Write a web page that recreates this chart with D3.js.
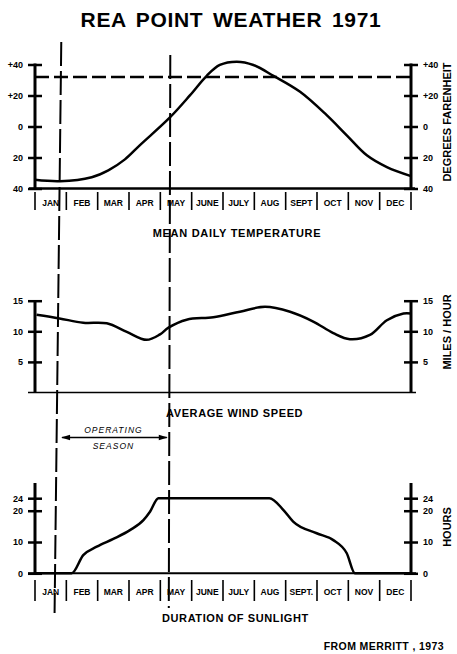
<!DOCTYPE html>
<html>
<head>
<meta charset="utf-8">
<script src="https://cdn.jsdelivr.net/npm/d3@7"></script>
<style>
  html, body { margin: 0; padding: 0; background: #fff; }
  svg { display: block; }
  text { font-family: "Liberation Sans", Arial, sans-serif; fill: #000; }
</style>
</head>
<body>
<svg id="chart" width="457" height="654"></svg>
<script>
// ---------- DATA ----------
const months = ["JAN","FEB","MAR","APR","MAY","JUNE","JULY","AUG","SEPT","OCT","NOV","DEC"];
const monthsBottom = ["JAN","FEB","MAR","APR","MAY","JUNE","JULY","AUG","SEPT.","OCT","NOV","DEC"];

// Mean daily temperature (°F); position in months from 1 Jan
const tempPos  = [0, 0.8, 1.81, 2.34, 2.87, 3.35, 4.29, 4.95, 5.48, 5.9, 6.44, 6.97, 7.61, 8.46, 9.31, 9.95, 10.59, 11.23, 12];
const tempVals = [-34.4, -35.3, -32.7, -28.3, -21.2, -12, 5.5, 20.2, 32.7, 39.7, 41.8, 39.7, 32.7, 22.4, 7.3, -5.7, -18.6, -26.2, -32];
const freezing = 32;
const tempTicks = [40, 20, 0, -20, -40];
const tempTickLabels = ["+40", "+20", "0", "20", "40"];

// Average wind speed (mph)
const windPos  = [0.05, 0.78, 1.54, 2.29, 2.93, 3.56, 3.99, 4.26, 4.84, 5.69, 6.54, 7.34, 8.14, 8.88, 9.52, 10.05, 10.69, 11.23, 11.76, 12];
const windVals = [12.7, 12.1, 11.4, 11.3, 9.9, 8.6, 9.5, 10.6, 11.9, 12.3, 13.2, 14.0, 13.2, 11.6, 9.7, 8.7, 9.4, 11.8, 12.9, 12.9];
const windTicks = [15, 10, 5];

// Duration of sunlight (hours)
const sunPos  = [0, 1.17, 1.54, 1.97, 2.5, 3.03, 3.46, 3.67, 3.94, 7.48, 7.93, 8.24, 8.99, 9.52, 9.95, 10.21, 12];
const sunVals = [0, 0, 5.8, 8.5, 11, 13.8, 17, 19.7, 24, 24, 20.2, 16.5, 12.8, 10.6, 6.4, 0, 0];
const sunTicks = [24, 20, 10, 0];

// Operating season boundaries (months)
const seasonStart = 0.8;
const seasonEnd = 4.27;

// ---------- LAYOUT ----------
const svg = d3.select("#chart");
const x = d3.scaleLinear().domain([0, 12]).range([35, 411]);
const yT = d3.scaleLinear().domain([-40, 40]).range([188.5, 64.5]);
const yW = d3.scaleLinear().domain([0, 15]).range([392.5, 300.7]);
const yS = d3.scaleLinear().domain([0, 24]).range([573.3, 498.2]);

// Title
svg.append("text").attr("x", 231).attr("y", 27).attr("text-anchor", "middle")
  .style("font-size", "21px").style("font-weight", "bold").style("letter-spacing", "0.7px")
  .style("word-spacing", "3px")
  .text("REA POINT WEATHER 1971");

function drawAxes(y, ticks, labels, top, bottom, rightLabel, rightLabelY, rlx) {
  const fmt = (d, i) => labels ? labels[i] : String(d);
  const gl = svg.append("g").attr("transform", `translate(${x(0)},0)`)
    .call(d3.axisLeft(y).tickValues(ticks).tickSize(6).tickFormat(fmt));
  const gr = svg.append("g").attr("transform", `translate(${x(12)},0)`)
    .call(d3.axisRight(y).tickValues(ticks).tickSize(7).tickFormat(fmt));
  [gl, gr].forEach(g => {
    g.select(".domain").remove();
    g.selectAll(".tick line").attr("stroke", "#000").attr("stroke-width", 2.5)
      .attr("x1", -7).attr("x2", 7);
    g.selectAll(".tick text").style("font-size", "9px").style("font-weight", "bold")
      .style("font-family", "'Liberation Sans', Arial, sans-serif");
    g.append("line").attr("x1", 0).attr("x2", 0).attr("y1", top).attr("y2", bottom)
      .attr("stroke", "#000").attr("stroke-width", 3);
  });
  gl.selectAll(".tick text").attr("x", -12);
  gr.selectAll(".tick text").attr("x", 12);
  svg.append("text").attr("transform", `translate(${rlx},${rightLabelY}) rotate(-90)`)
    .attr("text-anchor", "middle").style("font-size", "11px").style("font-weight", "bold")
    .text(rightLabel);
}

function monthRow(labels, ySep1, ySep2, yText) {
  const b = d3.range(13);
  svg.append("g").selectAll("line").data(b).join("line")
    .attr("x1", d => x(d)).attr("x2", d => x(d)).attr("y1", ySep1).attr("y2", ySep2)
    .attr("stroke", "#000").attr("stroke-width", 1.6);
  svg.append("g").selectAll("text").data(labels).join("text")
    .attr("x", (d, i) => x(i + 0.5)).attr("y", yText).attr("text-anchor", "middle")
    .style("font-size", "8.5px").style("font-weight", "bold").text(d => d);
}

const smooth = d3.curveCatmullRom.alpha(0.5);

// ---------- TEMPERATURE ----------
drawAxes(yT, tempTicks, tempTickLabels, yT(40) - 1, yT(-40), "DEGREES FARENHEIT", 122, 451);
svg.append("line").attr("x1", x(0) - 6).attr("x2", x(12) + 4).attr("y1", yT(-40)).attr("y2", yT(-40))
  .attr("stroke", "#000").attr("stroke-width", 2.5);
svg.append("line").attr("x1", x(0)).attr("x2", x(12)).attr("y1", yT(freezing)).attr("y2", yT(freezing))
  .attr("stroke", "#000").attr("stroke-width", 2.5).attr("stroke-dasharray", "14,5");
svg.append("path").datum(tempPos.map((p, i) => [p, tempVals[i]]))
  .attr("fill", "none").attr("stroke", "#000").attr("stroke-width", 2.5)
  .attr("d", d3.line().x(d => x(d[0])).y(d => yT(d[1])).curve(smooth));
monthRow(months, 192, 210, 206);
svg.append("text").attr("x", 237).attr("y", 237).attr("text-anchor", "middle")
  .style("font-size", "11px").style("font-weight", "bold").style("letter-spacing", "0.7px")
  .text("MEAN DAILY TEMPERATURE");

// ---------- WIND ----------
drawAxes(yW, windTicks, null, yW(15), yW(0), "MILES / HOUR", 332, 451);
svg.append("line").attr("x1", x(0) - 7).attr("x2", x(12) + 5).attr("y1", yW(0)).attr("y2", yW(0))
  .attr("stroke", "#000").attr("stroke-width", 1.6);
svg.append("path").datum(windPos.map((p, i) => [p, windVals[i]]))
  .attr("fill", "none").attr("stroke", "#000").attr("stroke-width", 2.5)
  .attr("d", d3.line().x(d => x(d[0])).y(d => yW(d[1])).curve(smooth));
svg.append("text").attr("x", 166).attr("y", 417).attr("text-anchor", "start")
  .style("font-size", "11px").style("font-weight", "bold").style("letter-spacing", "0.6px")
  .text("AVERAGE WIND SPEED");

// Operating season annotation
const sx1 = x(seasonStart), sx2 = x(seasonEnd), sy = 437.5;
svg.append("line").attr("x1", sx1 + 2).attr("x2", sx2 - 2).attr("y1", sy).attr("y2", sy)
  .attr("stroke", "#000").attr("stroke-width", 1.3);
svg.append("path").attr("d", `M${sx1 + 1},${sy} l9,-2.8 l0,5.6 Z M${sx2 - 1},${sy} l-9,-2.8 l0,5.6 Z`)
  .attr("fill", "#000");
svg.append("text").attr("x", (sx1 + sx2) / 2 - 1).attr("y", 433).attr("text-anchor", "middle")
  .style("font-size", "8.5px").style("font-style", "italic").style("letter-spacing", "1px").text("OPERATING");
svg.append("text").attr("x", (sx1 + sx2) / 2 - 1).attr("y", 449).attr("text-anchor", "middle")
  .style("font-size", "8.5px").style("font-style", "italic").style("letter-spacing", "1px").text("SEASON");

// ---------- SUNLIGHT ----------
drawAxes(yS, sunTicks, null, 483, yS(0), "HOURS", 527, 451);
svg.append("line").attr("x1", x(0) - 7).attr("x2", x(12) + 5).attr("y1", yS(0)).attr("y2", yS(0))
  .attr("stroke", "#000").attr("stroke-width", 2);
svg.append("path").datum(sunPos.map((p, i) => [p, sunVals[i]]))
  .attr("fill", "none").attr("stroke", "#000").attr("stroke-width", 2.5)
  .attr("d", d3.line().x(d => x(d[0])).y(d => yS(d[1])).curve(d3.curveMonotoneX));
monthRow(monthsBottom, 580, 601, 595);
svg.append("text").attr("x", 162).attr("y", 622).attr("text-anchor", "start")
  .style("font-size", "11px").style("font-weight", "bold").style("letter-spacing", "0.6px")
  .text("DURATION OF SUNLIGHT");
svg.append("text").attr("x", 444).attr("y", 650).attr("text-anchor", "end")
  .style("font-size", "10.5px").style("font-weight", "bold").style("letter-spacing", "0.4px")
  .text("FROM MERRITT , 1973");

// ---------- OPERATING SEASON VERTICAL LINES ----------
svg.append("line").attr("x1", x(seasonStart) + 1.2).attr("y1", 42).attr("x2", x(seasonStart) - 5.5).attr("y2", 613)
  .attr("stroke", "#000").attr("stroke-width", 2).attr("stroke-dasharray", "24,5");
svg.append("line").attr("x1", x(seasonEnd) + 1.5).attr("y1", 55).attr("x2", x(seasonEnd)).attr("y2", 608)
  .attr("stroke", "#000").attr("stroke-width", 2).attr("stroke-dasharray", "24,5");
</script>
</body>
</html>
